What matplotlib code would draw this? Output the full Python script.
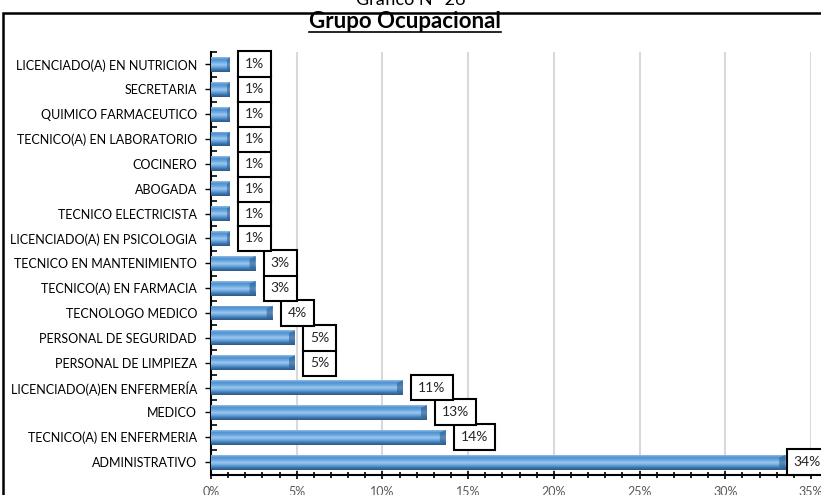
import numpy as np
import matplotlib
matplotlib.use("Agg")
import matplotlib.pyplot as plt
from matplotlib.colors import LinearSegmentedColormap
from matplotlib.patches import Rectangle
from matplotlib.lines import Line2D

# categories bottom -> top
categorias = [
    "ADMINISTRATIVO",
    "TECNICO(A) EN ENFERMERIA",
    "MEDICO",
    "LICENCIADO(A)EN ENFERMERÍA",
    "PERSONAL DE LIMPIEZA",
    "PERSONAL DE SEGURIDAD",
    "TECNOLOGO MEDICO",
    "TECNICO(A) EN FARMACIA",
    "TECNICO EN MANTENIMIENTO",
    "LICENCIADO(A) EN PSICOLOGIA",
    "TECNICO ELECTRICISTA",
    "ABOGADA",
    "COCINERO",
    "TECNICO(A) EN LABORATORIO",
    "QUIMICO FARMACEUTICO",
    "SECRETARIA",
    "LICENCIADO(A) EN NUTRICION",
]
porcentajes = [33.5, 13.7, 12.6, 11.2, 4.9, 4.9, 3.6, 2.6, 2.6,
               1.1, 1.1, 1.1, 1.1, 1.1, 1.1, 1.1, 1.1]
x_ticks = [0, 5, 10, 15, 20, 25, 30, 35]

plt.rcParams["font.family"] = ["Lato", "DejaVu Sans"]

fig = plt.figure(figsize=(8.21, 4.95), dpi=100)
ax = fig.add_axes([211 / 821, 20 / 495, 600 / 821, 423 / 495])

y = np.arange(len(categorias))
h = 0.6
bars = ax.barh(y, porcentajes, height=h, color="#5b9bd5", zorder=3)

# fake 3D gradient
cmap = LinearSegmentedColormap.from_list(
    "bev", ["#2c5a85", "#3f78b0", "#6aa8e0", "#9cc8ee", "#6aa8e0", "#4f8fcf", "#8dbde8"])
grad = np.linspace(0, 1, 64).reshape(-1, 1)
for b in bars:
    x0, y0 = b.get_x(), b.get_y()
    w, hh = b.get_width(), b.get_height()
    im = ax.imshow(grad, cmap=cmap, aspect="auto", origin="lower",
                   extent=[x0, x0 + w, y0, y0 + hh], zorder=4)
    im.set_clip_path(b)
    end = min(0.35, w * 0.15)
    ax.fill([x0 + w - end, x0 + w, x0 + w, x0 + w - end],
            [y0 + hh * 0.2, y0, y0 + hh, y0 + hh * 0.8],
            color="#2f5f8f", alpha=0.6, zorder=5, lw=0)

for yi, v in zip(y, porcentajes):
    dx = 11 if v < 30 else 6   # last label pushed back so it fits
    ax.annotate(f"{v:.0f}%", (v, yi), xytext=(dx, 0), textcoords="offset points",
                ha="left", va="center", fontsize=10, color="#262626", zorder=6,
                bbox=dict(boxstyle="square,pad=0.5", fc="white", ec="black", lw=1.5),
                annotation_clip=False)

ax.set_xlim(0, 35)
ax.set_ylim(-0.52, len(categorias) - 0.56)
ax.set_xticks(x_ticks)
ax.set_xticklabels([f"{t}%" for t in x_ticks])
ax.set_xticks(np.arange(0, 36, 1), minor=True)
ax.set_yticks(y)
ax.set_yticklabels(categorias)
ax.set_yticks(np.arange(-0.5, len(categorias), 1), minor=True)

ax.tick_params(axis="y", which="major", length=4, width=1, labelsize=9, pad=6,
               colors="black")
ax.tick_params(axis="y", which="minor", direction="in", length=4, width=1.2)
ax.tick_params(axis="x", which="both", direction="inout", length=6, width=1.2,
               labelsize=9, labelcolor="#595959", pad=5)
ax.tick_params(axis="x", which="minor", length=5)

ax.grid(axis="x", color="#d9d9d9", lw=1.5, zorder=0)
ax.set_axisbelow(True)
for s in ["top", "right"]:
    ax.spines[s].set_visible(False)
for s in ["left", "bottom"]:
    ax.spines[s].set_linewidth(1.5)

fig.text(0.5, 1.0, "Gráfico N° 26", ha="center", va="center", fontsize=13)
t = fig.text(405 / 821, 1 - 22 / 495, "Grupo Ocupacional", ha="center", va="center",
             fontsize=16, fontweight="bold")
fig.canvas.draw()
bb = t.get_window_extent().transformed(fig.transFigure.inverted())
fig.add_artist(Line2D([bb.x0, bb.x1], [bb.y0 + 0.002, bb.y0 + 0.002],
                      transform=fig.transFigure, color="black", lw=1.2))
fig.add_artist(Rectangle((3 / 821, -0.1), 1.1, 1 - 13 / 495 + 0.1, transform=fig.transFigure,
                         fill=False, ec="black", lw=1.8))

fig.savefig("out.png", dpi=100)
